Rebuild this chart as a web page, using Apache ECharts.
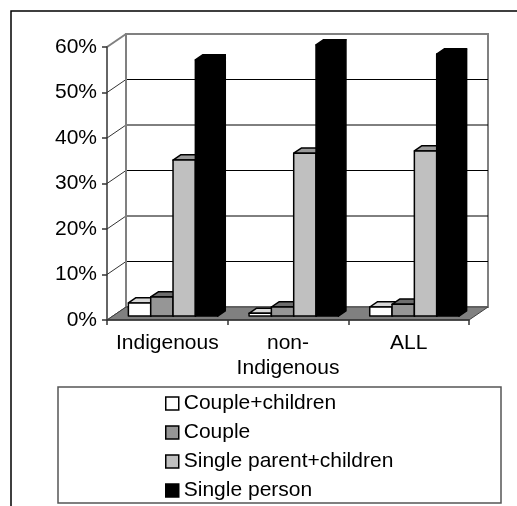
<!DOCTYPE html>
<html>
<head>
<meta charset="utf-8">
<script src="https://cdn.jsdelivr.net/npm/echarts@6/dist/echarts.min.js"></script>
<style>
  html, body { margin: 0; padding: 0; background: #fff; }
  #chart { width: 517px; height: 506px; }
</style>
</head>
<body>
<div id="chart"></div>
<script>
// Household type shares (%) by group
var categories = ['Indigenous', 'non-\nIndigenous', 'ALL'];
var seriesNames = ['Couple+children', 'Couple', 'Single parent+children', 'Single person'];
var coupleChildren = [2.9, 0.6, 2.0];
var couple = [4.2, 2.0, 2.6];
var singleParent = [34.3, 35.8, 36.3];
var singlePerson = [56.3, 59.6, 57.6];
var yTicks = [0, 10, 20, 30, 40, 50, 60];

var seriesValues = [coupleChildren, couple, singleParent, singlePerson];
var faceColors = ['#ffffff', '#969696', '#c0c0c0', '#000000'];
var topColors = ['#d8d8d8', '#6e6e6e', '#9a9a9a', '#000000'];
var sideColors = ['#bdbdbd', '#5a5a5a', '#858585', '#000000'];

var FONT = "'Liberation Sans', Arial, sans-serif";
// depth of the 3D box (pixels), and where the bars sit inside it
var DX = 19, DY = -13;
var F1 = 0.3, F2 = 0.7;

var chart = echarts.init(document.getElementById('chart'), null, { renderer: 'canvas' });

// walls, gridlines and floor of the 3D box
function renderWalls(params, api) {
  var cs = params.coordSys;
  var left = cs.x, right = cs.x + cs.width;
  var y0 = api.coord([0, yTicks[0]])[1];
  var children = [];
  children.push({
    type: 'rect',
    shape: { x: left + DX, y: cs.y + DY, width: cs.width, height: cs.height },
    style: { fill: '#ffffff', stroke: '#808080', lineWidth: 2 }
  });
  yTicks.forEach(function (v, i) {
    var y = api.coord([0, v])[1];
    var last = i === yTicks.length - 1;
    if (!last && i > 0) {
      children.push({
        type: 'line',
        shape: { x1: left + DX, y1: y + DY, x2: right + DX, y2: y + DY },
        style: { stroke: '#000', lineWidth: 1 }
      });
    }
    children.push({
      type: 'line',
      shape: { x1: left, y1: y, x2: left + DX, y2: y + DY },
      style: { stroke: last ? '#808080' : '#333', lineWidth: last ? 2 : 1 }
    });
  });
  children.push({
    type: 'line',
    shape: { x1: left + DX, y1: cs.y + DY, x2: left + DX, y2: y0 + DY },
    style: { stroke: '#808080', lineWidth: 2 }
  });
  children.push({
    type: 'polygon',
    shape: { points: [[left, y0], [right, y0], [right + DX, y0 + DY], [left + DX, y0 + DY]] },
    style: { fill: '#808080', stroke: '#404040', lineWidth: 1 }
  });
  return { type: 'group', children: children };
}

// one 3D bar: front face, top face and right side face
function makeBarRenderer(s) {
  return function (params, api) {
    var cat = api.value(0), val = api.value(1);
    var base = api.coord([cat, 0]);
    var top = api.coord([cat, val]);
    var band = api.size([1, 0])[0];
    var bw = band * 0.185;
    var x0 = base[0] - 2 * bw + s * bw + F1 * DX;
    var yb = base[1] + F1 * DY;
    var yt = top[1] + F1 * DY;
    var ddx = (F2 - F1) * DX, ddy = (F2 - F1) * DY;
    var stroke = { stroke: '#000', lineWidth: 1.5, lineJoin: 'round' };
    return {
      type: 'group',
      children: [
        {
          type: 'polygon',
          shape: { points: [[x0 + bw, yt], [x0 + bw + ddx, yt + ddy], [x0 + bw + ddx, yb + ddy], [x0 + bw, yb]] },
          style: Object.assign({ fill: sideColors[s] }, stroke)
        },
        {
          type: 'polygon',
          shape: { points: [[x0, yt], [x0 + bw, yt], [x0 + bw + ddx, yt + ddy], [x0 + ddx, yt + ddy]] },
          style: Object.assign({ fill: topColors[s] }, stroke)
        },
        {
          type: 'rect',
          shape: { x: x0, y: yt, width: bw, height: yb - yt },
          style: Object.assign({ fill: faceColors[s] }, stroke)
        }
      ]
    };
  };
}

var series = [{
  type: 'custom',
  name: '__walls',
  silent: true,
  z: 0,
  renderItem: renderWalls,
  data: [[0, 0]],
  encode: { x: 0, y: 1 }
}];
seriesNames.forEach(function (name, s) {
  series.push({
    type: 'custom',
    name: name,
    z: 2 + s,
    renderItem: makeBarRenderer(s),
    itemStyle: { color: faceColors[s], borderColor: '#000', borderWidth: 1.5 },
    data: seriesValues[s].map(function (v, i) { return [i, v]; }),
    encode: { x: 0, y: 1 }
  });
});

chart.setOption({
  animation: false,
  backgroundColor: '#ffffff',
  textStyle: { fontFamily: FONT },
  grid: { left: 107, top: 47, right: 48, bottom: 186, containLabel: false },
  xAxis: {
    type: 'category',
    data: categories,
    z: 10,
    axisLine: { show: true, lineStyle: { color: '#333', width: 1.5 } },
    axisTick: { show: true, length: 5, lineStyle: { color: '#333', width: 1.5 } },
    axisLabel: { color: '#000', fontSize: 21, fontFamily: FONT, margin: 11, lineHeight: 25, interval: 0 },
    splitLine: { show: false }
  },
  yAxis: {
    type: 'value',
    min: 0,
    max: 60,
    interval: 10,
    z: 10,
    axisLine: { show: true, lineStyle: { color: '#333', width: 1.5 } },
    axisTick: { show: true, length: 5, lineStyle: { color: '#333', width: 1.5 } },
    axisLabel: { color: '#000', fontSize: 21, fontFamily: FONT, margin: 10, formatter: '{value}%' },
    splitLine: { show: false }
  },
  legend: {
    data: seriesNames,
    orient: 'vertical',
    left: 165,
    top: 393,
    height: 112,
    padding: 0,
    icon: 'rect',
    itemWidth: 13,
    itemHeight: 13,
    itemGap: 8,
    selectedMode: false,
    itemStyle: { borderColor: '#000', borderWidth: 1.5 },
    textStyle: { color: '#000', fontSize: 21, fontFamily: FONT, lineHeight: 20 }
  },
  graphic: [
    {
      type: 'rect',
      silent: true,
      z: 100,
      shape: { x: 11, y: 11, width: 700, height: 700 },
      style: { fill: 'none', stroke: '#000', lineWidth: 1.5 }
    },
    {
      type: 'rect',
      silent: true,
      z: -1,
      shape: { x: 58, y: 387, width: 443, height: 116 },
      style: { fill: '#fff', stroke: '#555', lineWidth: 1.5 }
    }
  ],
  series: series
});
</script>
</body>
</html>
